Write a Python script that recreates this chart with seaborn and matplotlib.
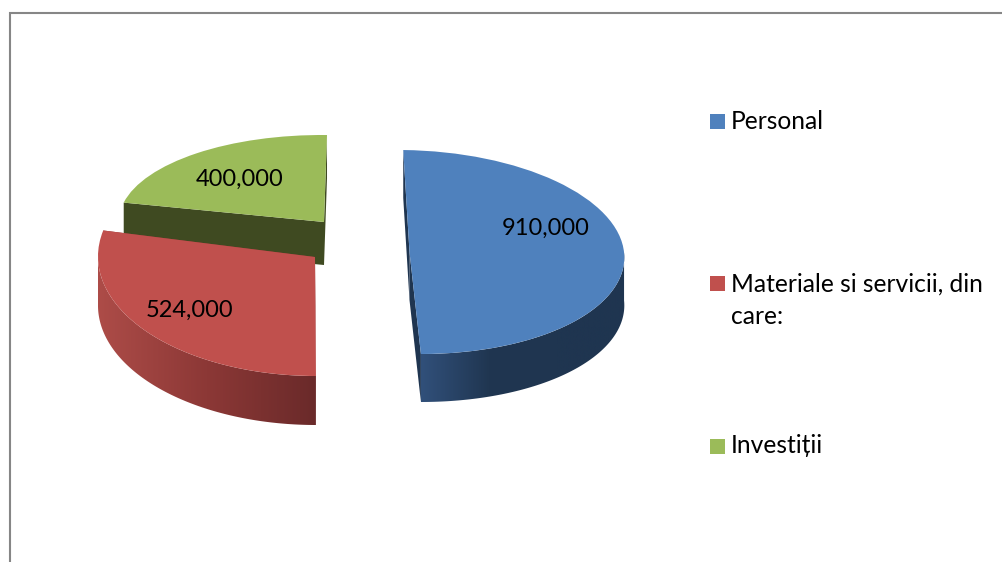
import numpy as np
import matplotlib
matplotlib.use('Agg')
import matplotlib.pyplot as plt
import seaborn as sns
from matplotlib.patches import Polygon, Rectangle
from matplotlib.transforms import Affine2D

# data
categories = ['Personal', 'Materiale si servicii, din\ncare:', 'Investiții']
values = [910000, 524000, 400000]

# colours
top_colors = ['#4f81bd', '#c0504d', '#9bbb59']
side_stops = [['#31507a', '#203651', '#1f3550', '#1f3550'],
              ['#ad4c48', '#8c3836', '#6a2a2a'],
              ['#3f4a21', '#3f4a21']]
cut_colors = ['#1f3550', '#8c3836', '#3f4a21']
frame_color = '#868686'

# layout, in pixels of the 1003x562 picture
apex_x = [409.5, 315, 324]
apex_y = [252, 257, 222]
radius_x = [214.5, 217, 205]
radius_y = [102, 119, 87]
shear = [-11.5, -1, -2]
depth = [48, 49, 43]
label_x = [546, 190, 240]
label_y = [228, 310, 179]
legend_y = [114, 276, 439]
baseline_y = [129, 292, 453]
line_gap = 32

sns.set_theme(style='white')
plt.rcParams['font.family'] = ['Lato', 'Open Sans', 'DejaVu Sans']

fig = plt.figure(figsize=(10.03, 5.62), dpi=100)
ax = fig.add_axes([0, 0, 1, 1])

wedges, _ = ax.pie(values, colors=top_colors, startangle=88.6, counterclock=False)


def place(i, theta):
    t = np.radians(theta)
    x = apex_x[i] + radius_x[i] * np.cos(t) + shear[i] * np.sin(t)
    y = apex_y[i] - radius_y[i] * np.sin(t)
    return x, y


# back slice first, so the nearer ones cover it
for i in [2, 1, 0]:
    w = wedges[i]
    z = 10 - i * 3
    matrix = [[radius_x[i], shear[i], apex_x[i]], [0, -radius_y[i], apex_y[i]], [0, 0, 1]]
    w.set_transform(Affine2D(np.array(matrix, dtype=float)) + ax.transData)
    w.set_zorder(z + 2)
    w.set_edgecolor('none')
    w.set_clip_on(False)

    # flat cut faces
    for theta in [w.theta1, w.theta2]:
        ex, ey = place(i, theta)
        ax.add_patch(Polygon([(apex_x[i], apex_y[i]), (ex, ey), (ex, ey + depth[i]),
                              (apex_x[i], apex_y[i] + depth[i])],
                             closed=True, facecolor=cut_colors[i], edgecolor='none', zorder=z))

    # curved outer side, only its front part shows
    thetas = np.linspace(w.theta1, w.theta2, 200)
    thetas = thetas[np.sin(np.radians(thetas)) < 0]
    if len(thetas) > 1:
        xs, ys = place(i, thetas)
        band = np.vstack([np.column_stack([xs, ys]),
                          np.column_stack([xs[::-1], ys[::-1] + depth[i]])])
        clip = Polygon(band, closed=True, facecolor='none', edgecolor='none')
        ax.add_patch(clip)
        shades = np.array(sns.blend_palette(side_stops[i], 256))[None, :, :3]
        img = ax.imshow(shades, extent=(xs.min(), xs.max(), ys.max() + depth[i], ys.min()),
                        aspect='auto', zorder=z + 1)
        img.set_clip_path(clip)

    ax.text(label_x[i], label_y[i], f'{values[i]:,}', ha='center', va='center',
            fontsize=17, color='black', zorder=30)

ax.set_aspect('auto')
ax.set_xlim(0, 1003)
ax.set_ylim(562, 0)
ax.axis('off')

# legend
for i, name in enumerate(categories):
    ax.add_patch(Rectangle((710, legend_y[i]), 15, 15, facecolor=top_colors[i],
                           edgecolor='none', zorder=20))
    for j, line in enumerate(name.split('\n')):
        ax.text(731, baseline_y[i] + j * line_gap, line, ha='left', va='baseline',
                fontsize=17.7, color='black', zorder=20)

# chart frame, cut off by the picture on the right and at the bottom
ax.plot([10, 10, 1003], [562, 13, 13], color=frame_color, lw=1.5, solid_joinstyle='miter', zorder=25)

fig.savefig('out.png', dpi=100, facecolor='white')
